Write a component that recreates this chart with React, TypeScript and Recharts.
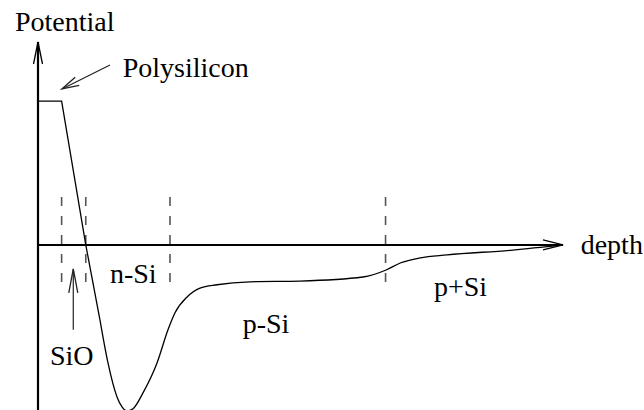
import { ComposedChart, Line, XAxis, YAxis, ReferenceLine, ReferenceDot } from 'recharts';

// plateau in the gate + straight drop through the oxide
const gateDepth = [0, 0.45, 0.91, 1.18];
const gatePotential = [3.9, 3.9, 0, -2.03];

// silicon part of the profile (smooth)
const siDepth = [1.18, 1.333, 1.505, 1.6, 1.695, 1.81, 2.0, 2.267, 2.476, 2.61, 2.84, 3.086, 3.41, 4.04, 4.99, 6.19, 6.63, 6.9, 7.28, 7.79, 9.05, 10.0];
const siPotential = [-2.03, -3.2, -4.12, -4.39, -4.5, -4.44, -4.01, -3.2, -2.3, -1.84, -1.41, -1.17, -1.08, -1.0, -0.98, -0.87, -0.68, -0.49, -0.35, -0.27, -0.14, 0];

// region boundaries (dashed)
const boundaries = [0.45, 0.91, 2.514, 6.62];
const boundaryTop = 1.3;
const boundaryBottom = -1.03;

const labelText = ['Potential', 'Polysilicon', 'depth', 'n-Si', 'SiO', 'p-Si', 'p+Si'];
const labelDepth = [-0.438, 1.613, 10.337, 1.371, 0.229, 3.899, 7.543];
const labelPotential = [5.8, 4.553, -0.244, -1.03, -3.25, -2.385, -1.382];

// pointer arrows: [tail, tip]
const polyArrow = [{ x: 1.371, y: 4.878 }, { x: 0.457, y: 4.228 }];
const sioArrow = [{ x: 0.672, y: -2.3 }, { x: 0.672, y: -0.65 }];

const gateData = gateDepth.map((d, i) => ({ depth: d, potential: gatePotential[i] }));
const siData = siDepth.map((d, i) => ({ depth: d, potential: siPotential[i] }));

const FONT = 'Liberation Serif';

function arrowHead(sx: number, sy: number, tx: number, ty: number, len: number, half: number) {
  const dx = tx - sx;
  const dy = ty - sy;
  const l = Math.sqrt(dx * dx + dy * dy) || 1;
  const ux = dx / l;
  const uy = dy / l;
  const bx = tx - ux * len;
  const by = ty - uy * len;
  return `${bx - uy * half},${by + ux * half} ${tx},${ty} ${bx + uy * half},${by - ux * half}`;
}

type LineProps = { x1: number; y1: number; x2: number; y2: number };

const makeArrow = (mode: 'seg' | 'up' | 'right', len: number, half: number, width: number, color: string) =>
  (p: LineProps) => {
    let sx = p.x1, sy = p.y1, tx = p.x2, ty = p.y2;
    if (mode === 'up' && p.y1 < p.y2) {
      sx = p.x2; sy = p.y2; tx = p.x1; ty = p.y1;
    }
    if (mode === 'right' && p.x1 > p.x2) {
      sx = p.x2; sy = p.y2; tx = p.x1; ty = p.y1;
    }
    return (
      <g>
        <line x1={sx} y1={sy} x2={tx} y2={ty} stroke={color} strokeWidth={width} />
        <polyline points={arrowHead(sx, sy, tx, ty, len, half)} fill="none" stroke={color} strokeWidth={1.3} />
      </g>
    );
  };

export default function App() {
  return (
    <div style={{ position: 'fixed', left: 0, top: 0, width: 644, height: 410, overflow: 'hidden', background: '#fff' }}>
      <ComposedChart width={644} height={422} margin={{ top: 42, right: 81, bottom: 0, left: 38 }}>
        <XAxis type="number" dataKey="depth" domain={[0, 10]} hide />
        <YAxis type="number" domain={[-4.8, 5.5]} hide />

        {boundaries.map((b) => (
          <ReferenceLine
            key={b}
            segment={[{ x: b, y: boundaryTop }, { x: b, y: boundaryBottom }]}
            stroke="#555"
            strokeWidth={1.6}
            strokeDasharray="9 10"
            ifOverflow="visible"
          />
        ))}

        <ReferenceLine y={0} ifOverflow="visible" shape={makeArrow('right', 20, 5, 2, '#000')} />
        <ReferenceLine x={0} ifOverflow="visible" shape={makeArrow('up', 22, 4.5, 2.2, '#000')} />

        <ReferenceLine segment={polyArrow} ifOverflow="visible" shape={makeArrow('seg', 17, 4.5, 1.2, '#222')} />
        <ReferenceLine segment={sioArrow} ifOverflow="visible" shape={makeArrow('seg', 24, 4.5, 1.2, '#222')} />

        <Line data={gateData} dataKey="potential" type="linear" stroke="#000" strokeWidth={1.3} dot={false} activeDot={false} isAnimationActive={false} />
        <Line data={siData} dataKey="potential" type="monotone" stroke="#000" strokeWidth={1.3} dot={false} activeDot={false} isAnimationActive={false} />

        {labelText.map((t, i) => (
          <ReferenceDot
            key={t}
            x={labelDepth[i]}
            y={labelPotential[i]}
            ifOverflow="visible"
            shape={(p: { cx: number; cy: number }) => (
              <text x={p.cx} y={p.cy} style={{ fontFamily: FONT, fontSize: 28 }} fill="#000">
                {t}
              </text>
            )}
          />
        ))}
      </ComposedChart>
    </div>
  );
}
